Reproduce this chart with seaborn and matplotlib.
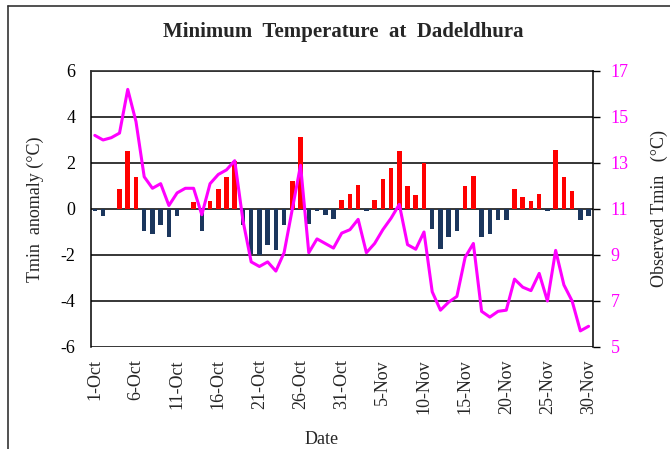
import numpy as np
import pandas as pd
import matplotlib
matplotlib.use("Agg")
import matplotlib.pyplot as plt
import seaborn as sns
from matplotlib.lines import Line2D

# dados: 1-Oct ate 30-Nov
dates = pd.date_range("2019-10-01", "2019-11-30", freq="D")
day_labels = [f"{d.day}-{d.strftime('%b')}" for d in dates]

anomaly = [-0.1, -0.3, 0.0, 0.85, 2.5, 1.4, -0.95, -1.1, -0.7, -1.2,
           -0.3, 0.0, 0.3, -0.95, 0.35, 0.85, 1.4, 2.1, -0.7, -1.95,
           -2.0, -1.55, -1.8, -0.7, 1.2, 3.15, -0.65, -0.1, -0.25, -0.45,
           0.38, 0.65, 1.05, -0.1, 0.38, 1.3, 1.8, 2.5, 1.0, 0.6,
           2.0, -0.85, -1.75, -1.2, -0.95, 1.0, 1.45, -1.2, -1.1, -0.5,
           -0.5, 0.85, 0.5, 0.35, 0.65, -0.1, 2.55, 1.4, 0.8, -0.5,
           -0.3]

tmin_obs = [14.2, 14.0, 14.1, 14.3, 16.2, 14.8, 12.4, 11.9, 12.1, 11.15,
            11.7, 11.9, 11.9, 10.75, 12.1, 12.5, 12.7, 13.1, 10.5, 8.7,
            8.5, 8.7, 8.3, 9.1, 11.0, 12.9, 9.1, 9.7, 9.5, 9.3,
            9.95, 10.1, 10.55, 9.1, 9.5, 10.1, 10.6, 11.2, 9.45, 9.25,
            10.0, 7.4, 6.6, 6.95, 7.2, 8.9, 9.5, 6.55, 6.3, 6.55,
            6.6, 7.95, 7.6, 7.45, 8.2, 7.0, 9.2, 7.7, 7.0, 5.7,
            5.9]

df = pd.DataFrame({"date": day_labels, "anomaly": anomaly, "tmin": tmin_obs})
df["pos"] = np.arange(len(df))
df["sign"] = np.where(df["anomaly"] >= 0, "pos", "neg")

sns.set_theme(style="white")
plt.rcParams["font.family"] = ["Liberation Serif", "DejaVu Serif"]
plt.rcParams["font.size"] = 13
plt.rcParams["axes.unicode_minus"] = False

fig, ax = plt.subplots(figsize=(6.7, 4.49), dpi=100)
fig.subplots_adjust(left=0.1354, right=0.8846, top=0.8419, bottom=0.2272)

sns.barplot(data=df, x="date", y="anomaly", hue="sign", order=day_labels,
            palette={"pos": "#FF0000", "neg": "#1B365D"}, dodge=False,
            width=0.55, linewidth=0, saturation=1, legend=False, ax=ax, zorder=3)
ax.set_xlim(-0.5, len(df) - 0.5)
ax.set_ylim(-6, 6)
ax.set_yticks(range(-6, 7, 2))
ax.yaxis.grid(True, color="black", linewidth=1.1, zorder=0)
ax.set_axisbelow(True)
ax.tick_params(axis="y", length=0, pad=11, labelsize=13, colors="black")
ax.set_xticks(range(0, len(df), 5))
ax.set_xticklabels(day_labels[::5], rotation=90)
ax.tick_params(axis="x", length=0, pad=9, labelsize=13)
ax.set_ylabel("Tmin  anomaly (°C)", fontsize=13, labelpad=12)
ax.set_xlabel("Date", fontsize=13)
ax.xaxis.set_label_coords((322 - 90.7) / 502, -0.305)
for s in ["left", "bottom", "right"]:
    ax.spines[s].set_visible(False)
ax.spines["top"].set_color("#333333")
ax.spines["left"].set_visible(True)
ax.spines["left"].set_color("black")
ax.spines["left"].set_linewidth(1.1)

ax2 = ax.twinx()
sns.lineplot(data=df, x="pos", y="tmin", color="#FF00FF", linewidth=2.2, ax=ax2)
ax2.set_ylim(5, 17)
ax2.set_yticks(range(5, 18, 2))
ax2.tick_params(axis="y", colors="black", length=5, width=1,
                direction="out", pad=8, labelsize=13, right=True)
for lbl in ax2.get_yticklabels():
    lbl.set_color("#FF00FF")
ax2.set_ylabel("Observed Tmin   (°C)", fontsize=13, labelpad=16)
ax2.set_xlabel("")
ax2.grid(False)
for s in ["left", "bottom", "top"]:
    ax2.spines[s].set_visible(False)
ax2.spines["right"].set_color("black")
ax2.spines["right"].set_linewidth(1.1)
ax2.set_xlim(-0.5, len(df) - 0.5)

fig.suptitle("Minimum  Temperature  at  Dadeldhura", x=0.513, y=1 - 32 / 449,
             va="center", fontsize=15, fontweight="bold")

# moldura externa
fig.add_artist(Line2D([8 / 670, 8 / 670], [0, 1 - 6 / 449], color="#333333", lw=1.2))
fig.add_artist(Line2D([8 / 670, 1], [1 - 6 / 449, 1 - 6 / 449], color="#333333", lw=1.2))

fig.savefig("out.png", dpi=100)
